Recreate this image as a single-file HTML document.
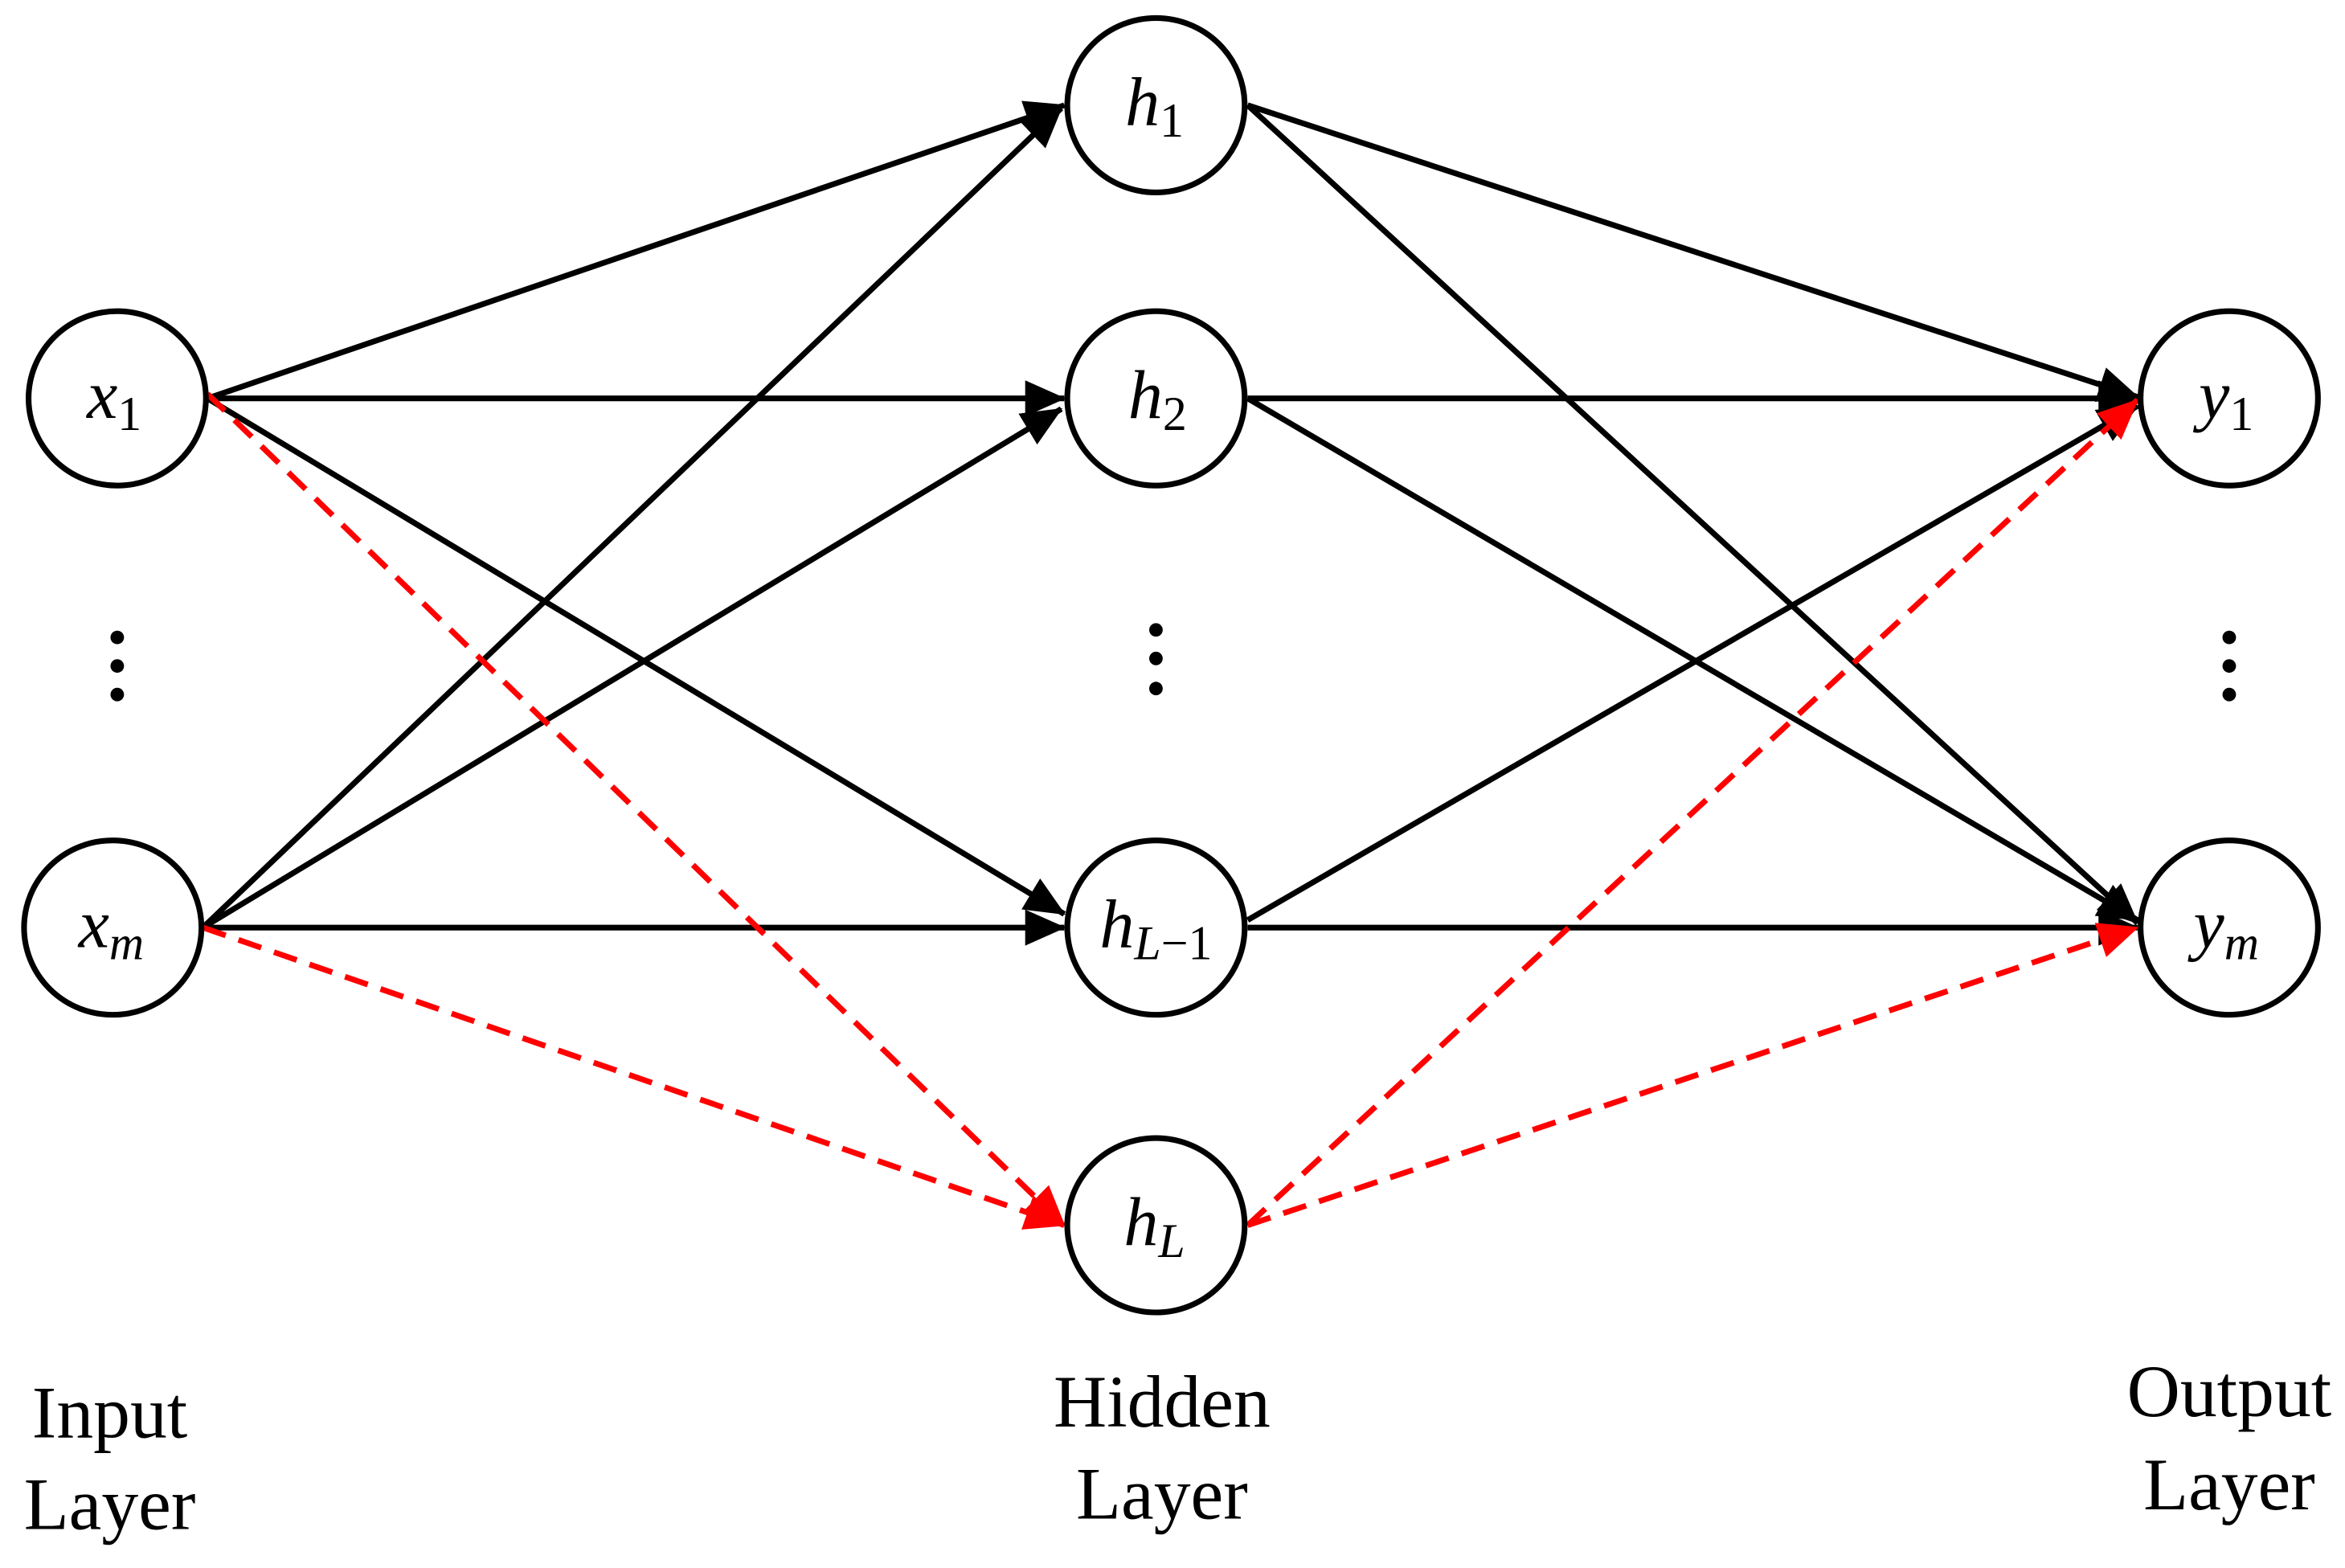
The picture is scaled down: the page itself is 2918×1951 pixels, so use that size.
<!DOCTYPE html>
<html><head><meta charset="utf-8"><style>
html,body{margin:0;padding:0;background:#fff;}
svg{display:block;}
</style></head><body>
<svg width="2918" height="1951" viewBox="0 0 1560 1043" preserveAspectRatio="none" xmlns="http://www.w3.org/2000/svg">
<defs>
<marker id="ab" markerUnits="userSpaceOnUse" markerWidth="30" markerHeight="26" refX="26" refY="12" orient="auto"><path d="M0,0 L27,12 L0,24 Z" fill="#000"/></marker>
<marker id="ar" markerUnits="userSpaceOnUse" markerWidth="30" markerHeight="26" refX="26" refY="12" orient="auto"><path d="M0,0 L27,12 L0,24 Z" fill="#f00"/></marker>
</defs>
<g stroke="#000" stroke-width="3.8" fill="none" marker-end="url(#ab)">
<line x1="138" y1="265" x2="708" y2="70"/>
<line x1="138" y1="265" x2="708" y2="265"/>
<line x1="138" y1="265" x2="708" y2="608"/>
<line x1="135" y1="617" x2="706" y2="72"/>
<line x1="135" y1="617" x2="706" y2="272"/>
<line x1="135" y1="617" x2="708" y2="617"/>
<line x1="830" y1="70" x2="1422" y2="264"/>
<line x1="830" y1="70" x2="1422" y2="614"/>
<line x1="830" y1="265" x2="1422" y2="265"/>
<line x1="830" y1="265" x2="1422" y2="612"/>
<line x1="830" y1="612" x2="1422" y2="270"/>
<line x1="830" y1="617" x2="1422" y2="617"/>
</g>
<g stroke="#f00" stroke-width="3.8" fill="none" stroke-dasharray="16,9" marker-end="url(#ar)">
<line x1="138" y1="262" x2="708" y2="815"/>
<line x1="135" y1="617" x2="708" y2="815"/>
<line x1="830" y1="815" x2="1422" y2="266"/>
<line x1="830" y1="815" x2="1422" y2="617"/>
</g>
<g stroke="#000" stroke-width="3.8" fill="#fff">
<ellipse cx="78" cy="265" rx="59" ry="58"/>
<ellipse cx="75" cy="617" rx="59" ry="58"/>
<ellipse cx="769" cy="70" rx="59" ry="58"/>
<ellipse cx="769" cy="265" rx="59" ry="58"/>
<ellipse cx="769" cy="617" rx="59" ry="58"/>
<ellipse cx="769" cy="815" rx="59" ry="58"/>
<ellipse cx="1483" cy="265" rx="59" ry="58"/>
<ellipse cx="1483" cy="617" rx="59" ry="58"/>
</g>
<g fill="#000">
<circle cx="78" cy="424" r="4.5"/><circle cx="78" cy="443" r="4.5"/><circle cx="78" cy="462" r="4.5"/>
<circle cx="769" cy="419" r="4.5"/><circle cx="769" cy="438" r="4.5"/><circle cx="769" cy="458" r="4.5"/>
<circle cx="1483" cy="424" r="4.5"/><circle cx="1483" cy="443" r="4.5"/><circle cx="1483" cy="462" r="4.5"/>
</g>
<g font-family="'Liberation Serif', serif" fill="#000" text-anchor="middle">
<text x="76" y="278" font-size="46"><tspan font-style="italic">x</tspan><tspan font-size="32" dy="8">1</tspan></text>
<text x="74" y="630" font-size="46"><tspan font-style="italic">x</tspan><tspan font-size="32" dy="8" font-style="italic">m</tspan></text>
<text x="768" y="83" font-size="46"><tspan font-style="italic">h</tspan><tspan font-size="32" dy="8">1</tspan></text>
<text x="770" y="278" font-size="46"><tspan font-style="italic">h</tspan><tspan font-size="32" dy="8">2</tspan></text>
<text x="769" y="630" font-size="46"><tspan font-style="italic">h</tspan><tspan font-size="32" dy="8"><tspan font-style="italic">L</tspan>−1</tspan></text>
<text x="768" y="828" font-size="46"><tspan font-style="italic">h</tspan><tspan font-size="32" dy="8" font-style="italic">L</tspan></text>
<text x="1481" y="278" font-size="46"><tspan font-style="italic">y</tspan><tspan font-size="32" dy="8">1</tspan></text>
<text x="1481" y="630" font-size="46"><tspan font-style="italic">y</tspan><tspan font-size="32" dy="8" font-style="italic">m</tspan></text>
<g font-size="49">
<text x="73" y="956">Input</text>
<text x="73" y="1017">Layer</text>
<text x="773" y="949">Hidden</text>
<text x="773" y="1010">Layer</text>
<text x="1483" y="942">Output</text>
<text x="1483" y="1004">Layer</text>
</g>
</g>
</svg>
</body></html>
